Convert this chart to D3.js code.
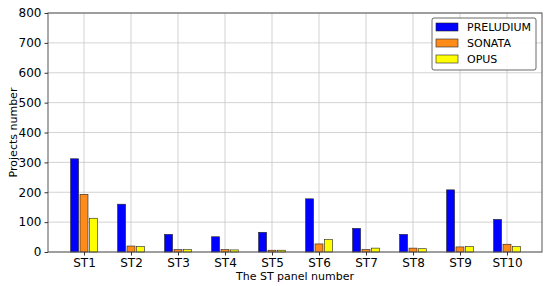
<!DOCTYPE html>
<html>
<head>
<meta charset="utf-8">
<script src="https://cdn.jsdelivr.net/npm/d3@7"></script>
<style>
  body { margin: 0; background: #fff; }
  text { font-family: "DejaVu Sans", sans-serif; fill: #000; }
</style>
</head>
<body>
<script>
const categories = ["ST1", "ST2", "ST3", "ST4", "ST5", "ST6", "ST7", "ST8", "ST9", "ST10"];
const preludium = [312, 160, 59, 51, 66, 178, 79, 59, 208, 109];
const sonata = [193, 20, 8, 8, 6, 27, 8, 13, 17, 26];
const opus = [113, 18, 8, 7, 6, 42, 13, 11, 18, 18];
const yTicks = [0, 100, 200, 300, 400, 500, 600, 700, 800];
const seriesNames = ["PRELUDIUM", "SONATA", "OPUS"];
const seriesColors = ["#0000ff", "#ff8c1a", "#ffff00"];

const width = 550, height = 286;
const plotL = 48, plotR = 542, plotT = 13, plotB = 252;

const svg = d3.select("body").append("svg")
    .attr("width", width)
    .attr("height", height);

const x = d3.scaleLinear().domain([-0.766, 9.745]).range([plotL, plotR]);
const y = d3.scaleLinear().domain([0, 800]).range([plotB, plotT]);

// grid
const grid = svg.append("g");
grid.selectAll(".gx").data(categories).enter().append("line")
    .attr("x1", (d, i) => x(i)).attr("x2", (d, i) => x(i))
    .attr("y1", plotT).attr("y2", plotB)
    .attr("stroke", "#c8c8c8").attr("stroke-width", 0.8);
grid.selectAll(".gy").data(yTicks).enter().append("line")
    .attr("x1", plotL).attr("x2", plotR)
    .attr("y1", d => y(d)).attr("y2", d => y(d))
    .attr("stroke", "#c8c8c8").attr("stroke-width", 0.8);

// bars
const series = [preludium, sonata, opus];
const barW = 0.17, offset = 0.2;
series.forEach(function(vals, s) {
    svg.append("g").selectAll("rect").data(vals).enter().append("rect")
        .attr("x", (d, i) => x(i + (s - 1) * offset - barW / 2))
        .attr("width", x(barW) - x(0))
        .attr("y", d => y(d))
        .attr("height", d => y(0) - y(d))
        .attr("fill", seriesColors[s])
        .attr("stroke", "#222")
        .attr("stroke-width", 0.6);
});

// frame
svg.append("rect")
    .attr("x", plotL).attr("y", plotT)
    .attr("width", plotR - plotL).attr("height", plotB - plotT)
    .attr("fill", "none").attr("stroke", "#555").attr("stroke-width", 1);

// axes
const xAxis = svg.append("g")
    .attr("transform", "translate(0," + plotB + ")")
    .call(d3.axisBottom(x).tickValues(d3.range(categories.length))
        .tickFormat(i => categories[i]).tickSize(3.5).tickPadding(2.5));
const yAxis = svg.append("g")
    .attr("transform", "translate(" + plotL + ",0)")
    .call(d3.axisLeft(y).tickValues(yTicks).tickSize(3.5).tickPadding(3));
[xAxis, yAxis].forEach(function(a) {
    a.select(".domain").remove();
    a.selectAll("line").attr("stroke", "#333");
    a.selectAll("text").style("font-size", "12px").style("font-family", "DejaVu Sans");
});

svg.append("text")
    .attr("x", (plotL + plotR) / 2).attr("y", 280)
    .attr("text-anchor", "middle")
    .style("font-size", "11px")
    .text("The ST panel number");
svg.append("text")
    .attr("transform", "translate(17," + ((plotT + plotB) / 2) + ") rotate(-90)")
    .attr("text-anchor", "middle")
    .style("font-size", "11px")
    .text("Projects number");

// legend
const legend = svg.append("g").attr("transform", "translate(432,18)");
legend.append("rect")
    .attr("width", 104).attr("height", 52).attr("rx", 2)
    .attr("fill", "#fff").attr("fill-opacity", 0.9)
    .attr("stroke", "#444").attr("stroke-width", 0.8);
const items = legend.selectAll(".item").data(seriesNames).enter().append("g")
    .attr("transform", (d, i) => "translate(0," + (9 + i * 16) + ")");
items.append("rect")
    .attr("x", 4).attr("y", -4)
    .attr("width", 22).attr("height", 8)
    .attr("fill", (d, i) => seriesColors[i])
    .attr("stroke", "#222").attr("stroke-width", 0.6);
items.append("text")
    .attr("x", 35).attr("y", 4)
    .style("font-size", "11px")
    .text(d => d);
</script>
</body>
</html>
